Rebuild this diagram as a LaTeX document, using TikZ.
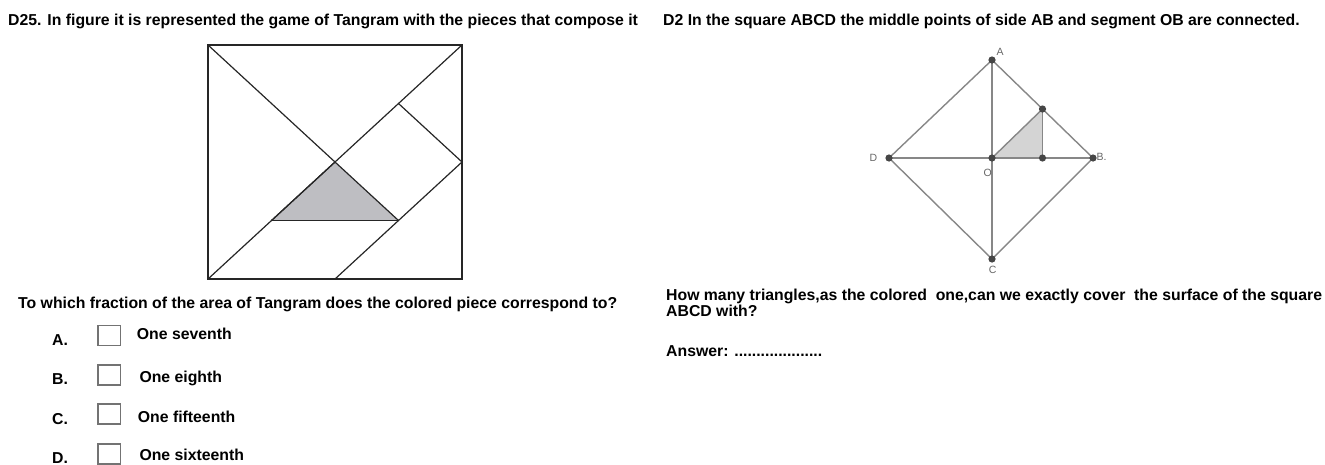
\documentclass[tikz,border=0pt]{standalone}
\usepackage{fontspec}
\setmainfont{Liberation Sans}
\definecolor{tanshade}{RGB}{190,190,194}
\definecolor{sqshade}{RGB}{212,212,212}
\definecolor{sqline}{RGB}{135,135,135}
\definecolor{ptfill}{RGB}{70,70,70}

\begin{document}
\begin{tikzpicture}
  [x=1pt,y=-1pt,every node/.style={inner sep=0pt},
   txt/.style={anchor=base west,font=\bfseries\fontsize{15.8}{16}\selectfont},
   lbl/.style={font=\fontsize{10.5}{10.5}\selectfont,text=black!60},
   tline/.style={draw=black!85,line width=1.2pt},
   gline/.style={draw=sqline,line width=1.4pt},
   tickbox/.style={draw=black!55,line width=1.2pt,anchor=north west,
                   minimum width=22.7pt,minimum height=20pt}]
  \useasboundingbox (0,0) rectangle (1325,464);

  % headings
  \node [txt] (head1) at (8,25.7) {D25. In figure it is represented the game of Tangram with the pieces that compose it};
  \node [txt] (head2) at (663,25.7) {D2 In the square ABCD the middle points of side AB and segment OB are connected.};

  % tangram
  \coordinate (tl) at (208,45);
  \coordinate (tr) at (462,45);
  \coordinate (bl) at (208,279);
  \coordinate (br) at (462,279);
  \coordinate (c) at (335,162);
  \coordinate (q1) at (398.5,103.5);
  \coordinate (rm) at (462,162);
  \coordinate (bm) at (335,279);
  \coordinate (sl) at (271.5,220.5);
  \coordinate (sr) at (398.5,220.5);

  \fill [tanshade] (c) -- (sl) -- (sr) -- cycle;
  \foreach \from/\to in {tl/c,bl/tr,q1/rm,rm/bm,c/sl,sl/sr,sr/c}
    \draw [tline] (\from) -- (\to);
  \draw [tline,line width=1.8pt] (tl) rectangle (br);

  % square ABCD
  \coordinate (A) at (992,60);
  \coordinate (B) at (1093,158);
  \coordinate (C) at (992,259);
  \coordinate (D) at (889,158);
  \coordinate (O) at (992,158);
  \coordinate (M) at (1042.5,109);
  \coordinate (N) at (1042.5,158);

  \fill [sqshade] (O) -- (M) -- (N) -- cycle;
  \foreach \from/\to in {A/B,B/C,C/D,D/A,A/O,O/C,D/O,O/N,N/B,O/M,M/N}
    \draw [gline] (\from) -- (\to);
  \foreach \p in {A,B,C,D,O,M,N}
    \fill [ptfill] (\p) circle (3.6pt);

  \node [lbl] (labA) at (1000,51.7) {A};
  \node [lbl] (labB) at (1101.5,156.7) {B.};
  \node [lbl] (labC) at (992.7,270) {C};
  \node [lbl] (labD) at (873.3,158.3) {D};
  \node [lbl] (labO) at (987.7,172.7) {O};

  % question on the left
  \node [txt] (quest1) at (18,308.3) {To which fraction of the area of Tangram does the colored piece correspond to?};
  \foreach \lab/\opt/\yl/\yt/\yb/\xt in {A/One seventh/345/339.3/325/136.7,
      B/One eighth/384.3/382.3/364.3/139.3,
      C/One fifteenth/424.3/422.3/403.3/137.7,
      D/One sixteenth/463.3/460.7/443.3/139.3}
  {
    \node [txt] (opt\lab) at (52,\yl) {\lab.};
    \node [tickbox] (box\lab) at (97.3,\yb) {};
    \node [txt] (ans\lab) at (\xt,\yt) {\opt};
  }

  % question on the right
  \node [txt] (quest2) at (666,300) {How many triangles,as the colored\ \ one,can we exactly cover\ \ the surface of the square};
  \node [txt] (quest2b) at (666,316) {ABCD with?};
  \node [txt] (answer) at (666,356) {Answer: ....................};
\end{tikzpicture}
\end{document}
